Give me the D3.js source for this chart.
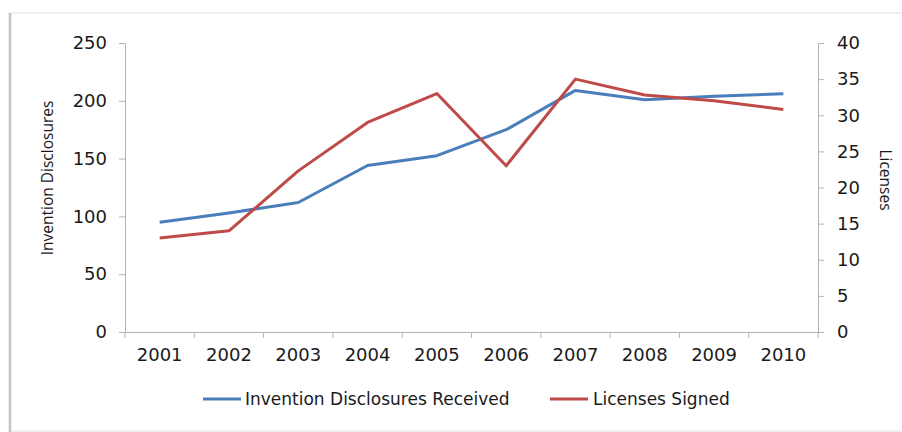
<!DOCTYPE html>
<html><head><meta charset="utf-8">
<script src="https://cdn.jsdelivr.net/npm/d3@7"></script>
<style>body{margin:0;background:#fff}svg{display:block}text{font-family:"DejaVu Sans",sans-serif;fill:#1a1a1a}</style>
</head><body><svg id="c" width="902" height="432"></svg>
<script>
const years = ["2001","2002","2003","2004","2005","2006","2007","2008","2009","2010"];
const disclosures = [95, 103, 112, 144, 152.5, 175, 209, 201, 204, 206];
const licenses = [13, 14, 22.3, 29, 33, 23, 35, 32.8, 32, 30.8];
const leftTicks = [0, 50, 100, 150, 200, 250];
const rightTicks = [0, 5, 10, 15, 20, 25, 30, 35, 40];
const seriesNames = ["Invention Disclosures Received", "Licenses Signed"];
const colors = ["#4a7ebb", "#be4b48"];

const svg = d3.select("#c");
const m = {l:125, r:818, t:43, b:332};
// frame
svg.append("rect").attr("x",10).attr("y",13).attr("width",900).attr("height",418)
  .attr("fill","#fff").attr("stroke","#e3e3e3").attr("stroke-width",1);
svg.append("line").attr("x1",10).attr("x2",10).attr("y1",13).attr("y2",432)
  .attr("stroke","#c4c4c4").attr("stroke-width",2.5);

const x = d3.scaleBand().domain(years).range([m.l, m.r]);
const yL = d3.scaleLinear().domain([0,250]).range([m.b, m.t]);
const yR = d3.scaleLinear().domain([0,40]).range([m.b, m.t]);

const axisColor = "#b3b3b3";
function style(g){
  g.selectAll(".domain").attr("stroke", axisColor);
  g.selectAll(".tick line").attr("stroke", axisColor);
  g.selectAll(".tick text").style("font-size","18px").attr("fill","#1a1a1a");
}
// left axis
svg.append("g").attr("transform",`translate(${m.l},0)`)
  .call(d3.axisLeft(yL).tickValues(leftTicks).tickSize(6).tickSizeOuter(0).tickPadding(12))
  .call(style);
// right axis
svg.append("g").attr("transform",`translate(${m.r},0)`)
  .call(d3.axisRight(yR).tickValues(rightTicks).tickSize(6).tickSizeOuter(0).tickPadding(13))
  .call(style);
// bottom axis
svg.append("g").attr("transform",`translate(0,${m.b})`)
  .call(d3.axisBottom(x).tickSize(0).tickPadding(16))
  .call(style);
// category boundary ticks
const bounds = years.map(d => x(d)).concat([m.r]);
svg.append("g").selectAll("line").data(bounds).join("line")
  .attr("x1",d=>d).attr("x2",d=>d).attr("y1",m.b).attr("y2",m.b+6)
  .attr("stroke",axisColor);

const cx = d => x(d) + x.bandwidth()/2;
const lineL = d3.line().x((d,i)=>cx(years[i])).y(d=>yL(d));
const lineR = d3.line().x((d,i)=>cx(years[i])).y(d=>yR(d));
svg.append("path").attr("d", lineL(disclosures)).attr("fill","none")
  .attr("stroke",colors[0]).attr("stroke-width",3).attr("stroke-linejoin","round");
svg.append("path").attr("d", lineR(licenses)).attr("fill","none")
  .attr("stroke",colors[1]).attr("stroke-width",3).attr("stroke-linejoin","round");

// axis titles
svg.append("text").attr("transform",`translate(53,178) rotate(-90)`)
  .attr("text-anchor","middle").style("font-family","'Open Sans',sans-serif").style("font-size","15.5px").text("Invention Disclosures");
svg.append("text").attr("transform",`translate(880,180) rotate(90)`)
  .attr("text-anchor","middle").style("font-family","'Open Sans',sans-serif").style("font-size","15.5px").text("Licenses");

// legend
const leg = [{x0:203, tx:245},{x0:550, tx:593}];
leg.forEach((l,i)=>{
  svg.append("line").attr("x1",l.x0).attr("x2",l.x0+38).attr("y1",399).attr("y2",399)
    .attr("stroke",colors[i]).attr("stroke-width",3);
  svg.append("text").attr("x",l.tx).attr("y",405).style("font-size","17px").text(seriesNames[i]);
});
</script></body></html>
